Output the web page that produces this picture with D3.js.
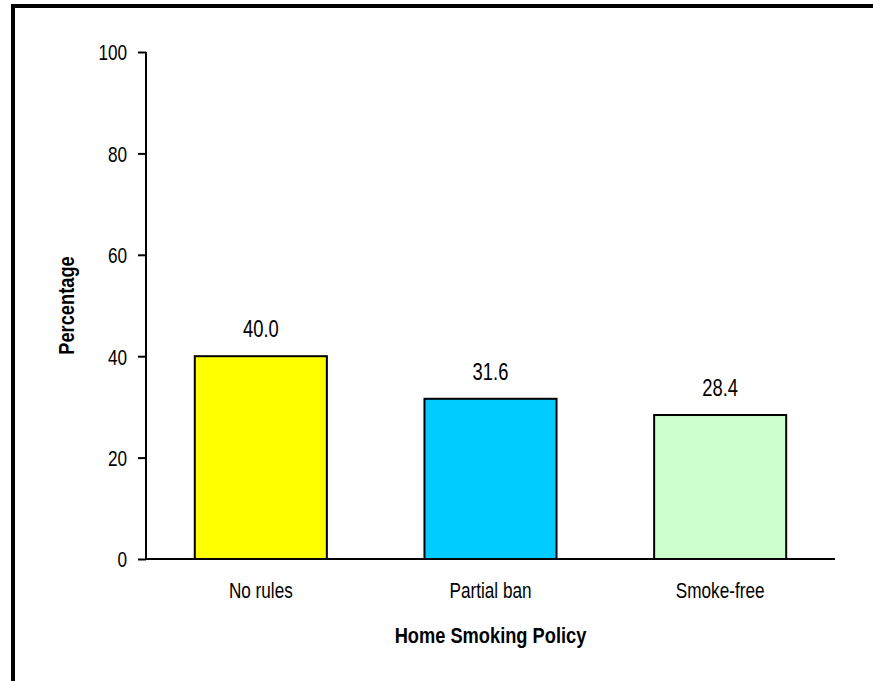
<!DOCTYPE html>
<html>
<head>
<meta charset="utf-8">
<script src="https://cdn.jsdelivr.net/npm/d3@7"></script>
<style>
  html, body { margin: 0; padding: 0; background: #fff; }
  svg { display: block; }
  text { font-family: "Liberation Sans", Arial, sans-serif; fill: #000; }
</style>
</head>
<body>
<svg id="chart" width="873" height="681"></svg>
<script>
const categories = ["No rules", "Partial ban", "Smoke-free"];
const values = [40.0, 31.6, 28.4];
const valueLabels = ["40.0", "31.6", "28.4"];
const barColors = ["#FFFF00", "#00CCFF", "#CCFFCC"];
const yTicks = [0, 20, 40, 60, 80, 100];
const xTitle = "Home Smoking Policy";
const yTitle = "Percentage";

const FONT = "'Liberation Sans', Arial, sans-serif";
const SX = 0.78;   // horizontal condensing for regular text
const SXB = 0.83;  // horizontal condensing for bold text

const svg = d3.select("#chart");

// frame lines (top and left)
svg.append("rect").attr("x", 11).attr("y", 4).attr("width", 862).attr("height", 4).attr("fill", "#000");
svg.append("rect").attr("x", 11).attr("y", 4).attr("width", 4).attr("height", 677).attr("fill", "#000");

const x = d3.scaleBand().domain(categories).range([146, 835]).paddingInner(0.425).paddingOuter(0.2125);
const y = d3.scaleLinear().domain([0, 100]).range([559, 52]);

// bars
svg.append("g").selectAll("rect").data(categories).join("rect")
  .attr("x", d => x(d))
  .attr("y", (d, i) => y(values[i]))
  .attr("width", x.bandwidth())
  .attr("height", (d, i) => y(0) - y(values[i]))
  .attr("fill", (d, i) => barColors[i])
  .attr("stroke", "#000")
  .attr("stroke-width", 2);

// value labels
svg.append("g").selectAll("text").data(categories).join("text")
  .attr("transform", (d, i) => `translate(${x(d) + x.bandwidth() / 2},${y(values[i]) - 19}) scale(0.8,1)`)
  .attr("text-anchor", "middle")
  .attr("font-size", 23)
  .text((d, i) => valueLabels[i]);

// y axis
const yAxis = svg.append("g").attr("transform", "translate(146,0)")
  .call(d3.axisLeft(y).tickValues(yTicks).tickFormat(d3.format("d")).tickSize(8).tickPadding(11));
yAxis.select(".domain").attr("stroke", "#000").attr("stroke-width", 2).attr("d", `M0,${y(100)}V${y(0)}`);
yAxis.selectAll(".tick line").attr("stroke", "#000").attr("stroke-width", 2);
yAxis.selectAll(".tick text")
  .attr("x", null)
  .attr("transform", `translate(-19,0) scale(${SX},1)`)
  .attr("font-size", 22).attr("dy", "0.36em")
  .attr("font-family", FONT).attr("fill", "#000");

// x axis
const xAxis = svg.append("g").attr("transform", `translate(0,${y(0)})`)
  .call(d3.axisBottom(x).tickSize(0).tickPadding(23));
xAxis.select(".domain").attr("stroke", "#000").attr("stroke-width", 2).attr("d", "M146,0H835");
xAxis.selectAll(".tick text")
  .attr("y", null).attr("dy", 0)
  .attr("transform", `translate(0,39) scale(${SX},1)`)
  .attr("font-size", 22)
  .attr("font-family", FONT).attr("fill", "#000");

// axis titles
svg.append("text")
  .attr("transform", `translate(${(146 + 835) / 2},643) scale(${SXB},1)`)
  .attr("text-anchor", "middle")
  .attr("font-size", 22)
  .attr("font-weight", "bold")
  .text(xTitle);

svg.append("text")
  .attr("transform", `translate(74,${(y(0) + y(100)) / 2}) rotate(-90) scale(${SXB},1)`)
  .attr("text-anchor", "middle")
  .attr("font-size", 22)
  .attr("font-weight", "bold")
  .text(yTitle);
</script>
</body>
</html>
